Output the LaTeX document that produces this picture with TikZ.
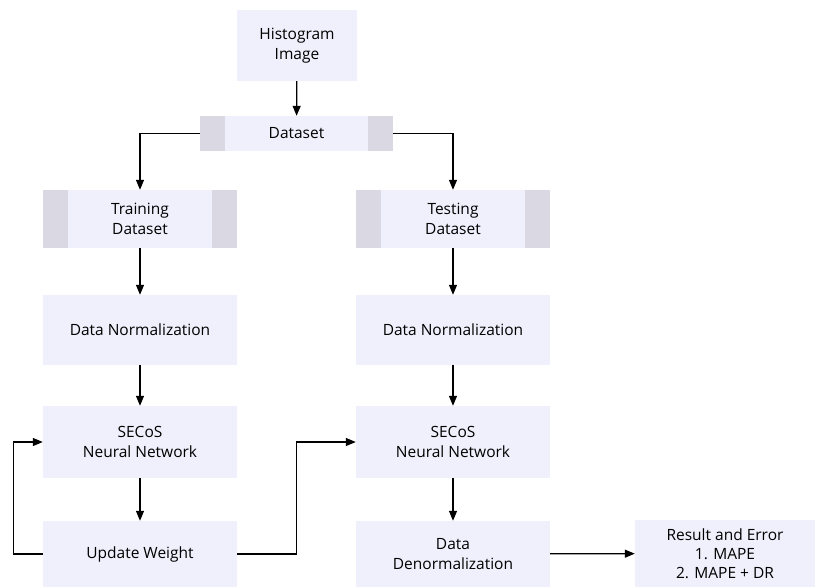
\documentclass[tikz,border=0pt]{standalone}
\usepackage{fontspec}
\setmainfont{Open Sans}
\usetikzlibrary{arrows.meta}

\definecolor{boxfill}{RGB}{240,240,252}
\definecolor{sidegray}{RGB}{218,216,226}

\tikzset{
  stage/.style={fill=boxfill, align=center, inner sep=0pt,
    font=\fontsize{15.5}{20}\selectfont},
  datastore/.style={stage, path picture={
    \fill[sidegray] (path picture bounding box.north west) rectangle
      ([xshift=25pt]path picture bounding box.south west);
    \fill[sidegray] (path picture bounding box.north east) rectangle
      ([xshift=-25pt]path picture bounding box.south east);}},
  flow/.style={line width=1.2pt, -{Triangle[length=10pt,width=8pt]}}
}

\begin{document}
\begin{tikzpicture}[x=1pt,y=-1pt]
\useasboundingbox (0,0) rectangle (815,587);
% boxes
\node[stage, minimum width=120pt, minimum height=71pt] (hist) at (297,45.5) {Histogram\\Image};
\node[datastore, minimum width=193pt, minimum height=35pt] (data) at (296.5,133.5) {Dataset};
\node[datastore, minimum width=194pt, minimum height=58pt] (train) at (140,219) {Training\\Dataset};
\node[datastore, minimum width=194pt, minimum height=58pt] (test) at (453,219) {Testing\\Dataset};
\node[stage, minimum width=194pt, minimum height=70pt] (normL) at (140,330) {Data Normalization};
\node[stage, minimum width=194pt, minimum height=70pt] (normR) at (453,330) {Data Normalization};
\node[stage, minimum width=194pt, minimum height=72pt] (netL) at (140,442) {SECoS\\Neural Network};
\node[stage, minimum width=194pt, minimum height=72pt] (netR) at (453,442) {SECoS\\Neural Network};
\node[stage, minimum width=194pt, minimum height=66pt] (upd) at (140,554) {Update Weight};
\node[stage, minimum width=194pt, minimum height=66pt] (denorm) at (453,554) {Data\\Denormalization};
\node[stage, minimum width=180pt, minimum height=67pt, font=\fontsize{15.5}{19}\selectfont] (res) at (725,553.5) {Result and Error\\1. MAPE\\2. MAPE + DR};
% arrows
\draw[flow] (hist) -- (data);
\draw[flow] (data.west) -| (train.north);
\draw[flow] (data.east) -| (test.north);
\draw[flow] (train) -- (normL);
\draw[flow] (test) -- (normR);
\draw[flow] (normL) -- (netL);
\draw[flow] (normR) -- (netR);
\draw[flow] (netL) -- (upd);
\draw[flow] (netR) -- (denorm);
\draw[flow] (upd.west) -- ++(-29,0) |- (netL.west);
\draw[flow] (upd.east) -- ++(59,0) |- (netR.west);
\draw[flow] (denorm) -- (res);
\end{tikzpicture}
\end{document}
